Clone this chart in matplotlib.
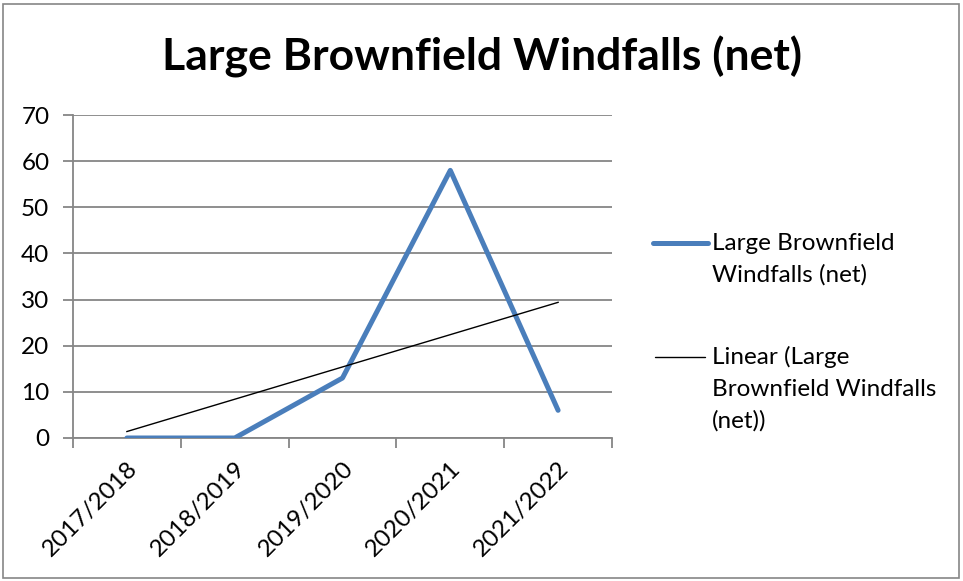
import numpy as np
import matplotlib
matplotlib.use("Agg")
import matplotlib.pyplot as plt
from matplotlib.lines import Line2D

plt.rcParams['font.family'] = ['Lato', 'DejaVu Sans']

# data
years = ["2017/2018", "2018/2019", "2019/2020", "2020/2021", "2021/2022"]
windfalls = [0, 0, 13, 58, 6]
series_name = "Large Brownfield\nWindfalls (net)"
trend_name = "Linear (Large\nBrownfield Windfalls\n(net))"

x = np.arange(len(years))
slope, icpt = np.polyfit(x, windfalls, 1)
trend = slope * x + icpt

grey = "#868686"
blue = "#4a7ebb"
W, H = 963, 581

fig = plt.figure(figsize=(9.63, 5.81), dpi=100)
ax = fig.add_axes([73 / W, 1 - 438 / H, (612 - 73) / W, (438 - 115) / H])

ax.plot(x, windfalls, color=blue, lw=3.6, solid_capstyle="round",
        solid_joinstyle="round", zorder=3)
ax.plot(x, trend, color="black", lw=1.0, zorder=4)

ax.set_xlim(-0.5, len(years) - 0.5)
ax.set_ylim(0, 70)
ax.set_yticks(range(0, 71, 10))
ax.yaxis.grid(True, color=grey, lw=1.3)
ax.set_axisbelow(True)

# category ticks sit on the boundaries, labels in the middle
ax.set_xticks(np.arange(-0.5, len(years)))
ax.set_xticklabels([])
ax.set_xticks(x, minor=True)
ax.set_xticklabels(years, minor=True, rotation=45, ha="right",
                   rotation_mode="anchor", fontsize=17.5)
ax.tick_params(axis="x", which="major", length=7, color=grey, width=1.3)
ax.tick_params(axis="x", which="minor", length=0, pad=14)
ax.tick_params(axis="y", length=7, color=grey, width=1.3, labelsize=17.5, pad=10)

for s in ["top", "right"]:
    ax.spines[s].set_visible(False)
for s in ["left", "bottom"]:
    ax.spines[s].set_color(grey)
    ax.spines[s].set_linewidth(1.3)

fig.text(0.5, 1 - 57 / H, "Large Brownfield Windfalls (net)", ha="center",
         va="center", fontsize=32, fontweight="bold")

# legend drawn by hand: handle lines up with the first text line
entries = [(series_name, blue, 3.6, 243, (653, 708)),
           (trend_name, "black", 1.0, 357, (655, 705))]
for label, col, lw, y0, (xa, xb) in entries:
    fig.add_artist(Line2D([xa / W, xb / W], [1 - y0 / H, 1 - y0 / H],
                          transform=fig.transFigure, color=col, lw=lw,
                          solid_capstyle="round"))
    for i, line in enumerate(label.split("\n")):
        fig.text(712 / W, 1 - (y0 + 32 * i) / H, line, ha="left",
                 va="center", fontsize=17.5)

# outer chart border
fig.add_artist(plt.Rectangle((3 / W, 3 / H), 956 / W, 574 / H,
                             transform=fig.transFigure, fill=False,
                             edgecolor=grey, lw=1.2))

fig.savefig("out.png", dpi=100)
